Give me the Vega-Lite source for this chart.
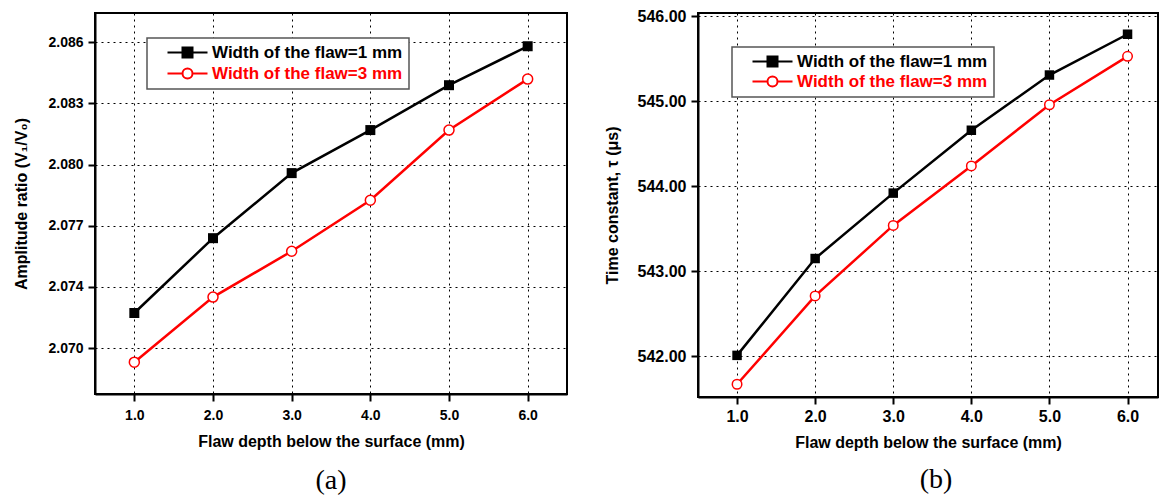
{
  "$schema": "https://vega.github.io/schema/vega-lite/v6.json",
  "background": "white",
  "padding": {"left": 12, "top": 7, "right": 0, "bottom": 0},
  "spacing": 35,
  "config": {
    "view": {"stroke": "black", "strokeWidth": 2},
    "font": "Liberation Sans",
    "axis": {
      "domainColor": "black", "domainWidth": 2,
      "tickColor": "black", "tickWidth": 2, "tickSize": 7,
      "labelFont": "Liberation Sans", "labelFontWeight": "bold", "labelColor": "black",
      "titleFont": "Liberation Sans", "titleFontWeight": "bold", "titleFontSize": 16, "titleColor": "black",
      "gridColor": "black", "gridDash": [2, 4], "gridWidth": 1, "gridOpacity": 1
    },
    "legend": {
      "orient": "none", "direction": "vertical",
      "fillColor": "white", "strokeColor": "#555555", "padding": 6, "symbolOffset": 26,
      "labelFont": "Liberation Sans", "labelFontWeight": "bold", "labelFontSize": 17, "labelOffset": 16, "labelLimit": 0,
      "symbolSize": 100, "symbolStrokeWidth": 2, "rowPadding": 2
    }
  },
  "hconcat": [
    {
      "width": 472,
      "height": 381,
      "title": {"text": "(a)", "orient": "bottom", "font": "Liberation Serif", "fontSize": 28, "fontWeight": "normal", "color": "black", "offset": 18},
      "data": {"values": [
        {"series": "Width of the flaw=1 mm", "depth": 1, "value": 2.07222},
        {"series": "Width of the flaw=1 mm", "depth": 2, "value": 2.07589},
        {"series": "Width of the flaw=1 mm", "depth": 3, "value": 2.07908},
        {"series": "Width of the flaw=1 mm", "depth": 4, "value": 2.08119},
        {"series": "Width of the flaw=1 mm", "depth": 5, "value": 2.08339},
        {"series": "Width of the flaw=1 mm", "depth": 6, "value": 2.0853},
        {"series": "Width of the flaw=3 mm", "depth": 1, "value": 2.06981},
        {"series": "Width of the flaw=3 mm", "depth": 2, "value": 2.073},
        {"series": "Width of the flaw=3 mm", "depth": 3, "value": 2.07525},
        {"series": "Width of the flaw=3 mm", "depth": 4, "value": 2.07775},
        {"series": "Width of the flaw=3 mm", "depth": 5, "value": 2.08119},
        {"series": "Width of the flaw=3 mm", "depth": 6, "value": 2.08369}
      ]},
      "encoding": {
        "x": {"field": "depth", "type": "quantitative",
          "scale": {"domain": [0.5, 6.5], "nice": false, "zero": false},
          "axis": {"values": [1, 2, 3, 4, 5, 6], "format": ".1f", "title": "Flaw depth below the surface (mm)", "labelFontSize": 14, "labelPadding": 7, "titlePadding": 11}},
        "y": {"field": "value", "type": "quantitative",
          "scale": {"domain": [2.06825, 2.08693], "nice": false, "zero": false},
          "axis": {"values": [2.0705, 2.0735, 2.0765, 2.0795, 2.0825, 2.0855],
            "labelExpr": "datum.value < 2.072 ? '2.070' : datum.value < 2.075 ? '2.074' : datum.value < 2.078 ? '2.077' : datum.value < 2.081 ? '2.080' : datum.value < 2.084 ? '2.083' : '2.086'",
            "title": "Amplitude ratio (V₁/V₀)", "labelFontSize": 14, "labelPadding": 5, "titlePadding": 18}}
      },
      "layer": [
        {"mark": {"type": "line", "strokeWidth": 2.5},
          "encoding": {
            "color": {"field": "series", "type": "nominal",
              "scale": {"domain": ["Width of the flaw=1 mm", "Width of the flaw=3 mm"], "range": ["black", "#ff0000"]},
              "legend": {
                "title": null, "legendX": 52, "legendY": 25,
                "encode": {
                  "legend": {"update": {"strokeWidth": {"value": 1.5}}},
                  "symbols": {"update": {
                    "shape": [{"test": "datum.value === 'Width of the flaw=1 mm'", "value": "M-4,0H-1.1M1.1,0H4M-1,-1H1V1H-1Z"}, {"value": "M-4,0H-1M1,0A1,1 0 1,1 -1,0A1,1 0 1,1 1,0M1,0H4"}],
                    "fill": [{"test": "datum.value === 'Width of the flaw=1 mm'", "value": "black"}, {"value": "white"}],
                    "stroke": [{"test": "datum.value === 'Width of the flaw=1 mm'", "value": "black"}, {"value": "#ff0000"}],
                    "strokeWidth": {"value": 2}, "opacity": {"value": 1}}},
                  "labels": {"update": {"fill": [{"test": "datum.value === 'Width of the flaw=1 mm'", "value": "black"}, {"value": "#ff0000"}]}}
                }
              }}
          }},
        {"transform": [{"filter": "datum.series === 'Width of the flaw=1 mm'"}],
          "mark": {"type": "point", "shape": "square", "size": 100, "filled": true, "color": "black", "opacity": 1}},
        {"transform": [{"filter": "datum.series === 'Width of the flaw=3 mm'"}],
          "mark": {"type": "point", "shape": "circle", "size": 100, "fill": "white", "stroke": "#ff0000", "strokeWidth": 1.5, "opacity": 1}}
      ]
    },
    {
      "width": 460,
      "height": 384,
      "title": {"text": "(b)", "orient": "bottom", "font": "Liberation Serif", "fontSize": 28, "fontWeight": "normal", "color": "black", "offset": 16, "dx": 8},
      "data": {"values": [
        {"series": "Width of the flaw=1 mm", "depth": 1, "value": 542.01},
        {"series": "Width of the flaw=1 mm", "depth": 2, "value": 543.15},
        {"series": "Width of the flaw=1 mm", "depth": 3, "value": 543.92},
        {"series": "Width of the flaw=1 mm", "depth": 4, "value": 544.66},
        {"series": "Width of the flaw=1 mm", "depth": 5, "value": 545.31},
        {"series": "Width of the flaw=1 mm", "depth": 6, "value": 545.79},
        {"series": "Width of the flaw=3 mm", "depth": 1, "value": 541.67},
        {"series": "Width of the flaw=3 mm", "depth": 2, "value": 542.71},
        {"series": "Width of the flaw=3 mm", "depth": 3, "value": 543.54},
        {"series": "Width of the flaw=3 mm", "depth": 4, "value": 544.24},
        {"series": "Width of the flaw=3 mm", "depth": 5, "value": 544.96},
        {"series": "Width of the flaw=3 mm", "depth": 6, "value": 545.53}
      ]},
      "encoding": {
        "x": {"field": "depth", "type": "quantitative",
          "scale": {"domain": [0.5, 6.39], "nice": false, "zero": false},
          "axis": {"values": [1, 2, 3, 4, 5, 6], "format": ".1f", "title": "Flaw depth below the surface (mm)", "labelFontSize": 16, "labelPadding": 4, "titlePadding": 10}},
        "y": {"field": "value", "type": "quantitative",
          "scale": {"domain": [541.52, 546.04], "nice": false, "zero": false},
          "axis": {"values": [542, 543, 544, 545, 546], "format": ".2f",
            "title": "Time constant, τ (μs)", "labelFontSize": 16, "labelPadding": 5, "titlePadding": 17}}
      },
      "layer": [
        {"mark": {"type": "line", "strokeWidth": 2.5},
          "encoding": {
            "color": {"field": "series", "type": "nominal",
              "scale": {"domain": ["Width of the flaw=1 mm", "Width of the flaw=3 mm"], "range": ["black", "#ff0000"]},
              "legend": {
                "title": null, "legendX": 34, "legendY": 34, "rowPadding": 1,
                "encode": {
                  "legend": {"update": {"strokeWidth": {"value": 1.5}}},
                  "symbols": {"update": {
                    "shape": [{"test": "datum.value === 'Width of the flaw=1 mm'", "value": "M-4,0H-1.1M1.1,0H4M-1,-1H1V1H-1Z"}, {"value": "M-4,0H-1M1,0A1,1 0 1,1 -1,0A1,1 0 1,1 1,0M1,0H4"}],
                    "fill": [{"test": "datum.value === 'Width of the flaw=1 mm'", "value": "black"}, {"value": "white"}],
                    "stroke": [{"test": "datum.value === 'Width of the flaw=1 mm'", "value": "black"}, {"value": "#ff0000"}],
                    "strokeWidth": {"value": 2}, "opacity": {"value": 1}}},
                  "labels": {"update": {"fill": [{"test": "datum.value === 'Width of the flaw=1 mm'", "value": "black"}, {"value": "#ff0000"}]}}
                }
              }}
          }},
        {"transform": [{"filter": "datum.series === 'Width of the flaw=1 mm'"}],
          "mark": {"type": "point", "shape": "square", "size": 90, "filled": true, "color": "black", "opacity": 1}},
        {"transform": [{"filter": "datum.series === 'Width of the flaw=3 mm'"}],
          "mark": {"type": "point", "shape": "circle", "size": 90, "fill": "white", "stroke": "#ff0000", "strokeWidth": 1.5, "opacity": 1}}
      ]
    }
  ],
  "resolve": {"scale": {"x": "independent", "y": "independent", "color": "independent"}, "legend": {"color": "independent"}}
}
